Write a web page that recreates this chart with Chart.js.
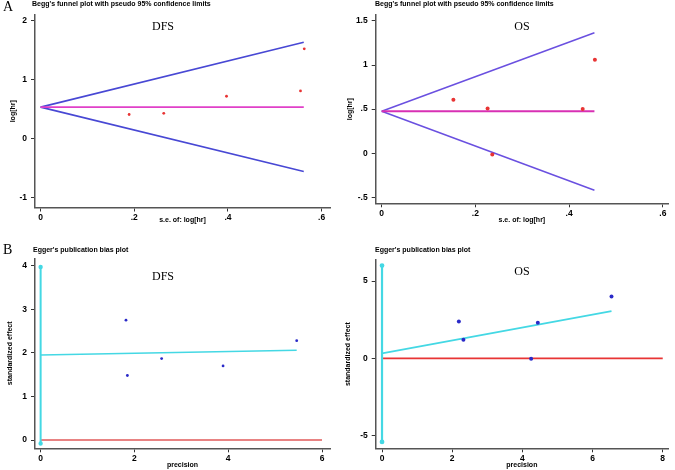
<!DOCTYPE html>
<html>
<head>
<meta charset="utf-8">
<script src="https://cdn.jsdelivr.net/npm/chart.js@4.4.1/dist/chart.umd.min.js"></script>
<style>
  body { margin: 0; background: #fff; }
  #wrap { position: relative; width: 675px; height: 470px; overflow: hidden; }
  #wrap canvas { position: absolute; }
</style>
</head>
<body>
<div id="wrap">
  <canvas id="beggDfs" width="337" height="235" style="left:0;top:0"></canvas>
  <canvas id="beggOs" width="338" height="235" style="left:337px;top:0"></canvas>
  <canvas id="eggerDfs" width="337" height="235" style="left:0;top:235px"></canvas>
  <canvas id="eggerOs" width="338" height="235" style="left:337px;top:235px"></canvas>
</div>
<script>
// --- A: Begg's funnel plots ---
const beggDfsSe = [0.189, 0.263, 0.397, 0.555, 0.563];
const beggDfsLogHr = [0.41, 0.43, 0.72, 0.81, 1.525];
const beggDfsLimitSe = [0, 0.562];
const beggDfsUpper = [0.535, 1.637];
const beggDfsLower = [0.535, -0.56];
const beggDfsPooled = [0.535, 0.535];

const beggOsSe = [0.153, 0.226, 0.236, 0.429, 0.455];
const beggOsLogHr = [0.608, 0.506, -0.015, 0.502, 1.061];
const beggOsLimitSe = [0, 0.454];
const beggOsUpper = [0.476, 1.366];
const beggOsLower = [0.476, -0.42];
const beggOsPooled = [0.476, 0.476];

// --- B: Egger's publication bias plots ---
const eggerDfsPrecision = [1.82, 1.85, 2.58, 3.89, 5.46];
const eggerDfsEffect = [2.75, 1.48, 1.87, 1.70, 2.28];
const eggerDfsFitX = [0, 5.46];
const eggerDfsFitY = [1.95, 2.06];
const eggerDfsCi = [-0.08, 3.97];
const eggerDfsZeroX = [0, 6];

const eggerOsPrecision = [2.19, 2.32, 4.25, 4.44, 6.54];
const eggerOsEffect = [2.39, 1.20, -0.03, 2.30, 4.00];
const eggerOsFitX = [0, 6.54];
const eggerOsFitY = [0.33, 3.06];
const eggerOsCi = [-5.4, 6.0];
const eggerOsZeroX = [0, 8];

// tick labels
const beggXTicks = [0, 0.2, 0.4, 0.6];
const beggDfsYTicks = [-1, 0, 1, 2];
const beggOsYTicks = [-0.5, 0, 0.5, 1, 1.5];
const eggerDfsXTicks = [0, 2, 4, 6];
const eggerDfsYTicks = [0, 1, 2, 3, 4];
const eggerOsXTicks = [0, 2, 4, 6, 8];
const eggerOsYTicks = [-5, 0, 5];

const SANS = '"Liberation Sans", Arial, sans-serif';
const SERIF = '"Liberation Serif", "Times New Roman", serif';

const pts = (xs, ys) => xs.map((x, i) => ({ x: x, y: ys[i] }));
// stata style numbers: .2 instead of 0.2
const stataNum = v => String(v).replace(/^(-?)0\./, '$1.');

// draws panel letter, title and the DFS / OS label
const panelText = {
  id: 'panelText',
  afterDraw(chart, args, o) {
    const ctx = chart.ctx;
    ctx.save();
    ctx.fillStyle = '#000';
    ctx.textBaseline = 'middle';
    ctx.textAlign = 'left';
    if (o.letter) {
      ctx.font = '14px ' + SERIF;
      ctx.fillText(o.letter, 3, o.letterY);
    }
    ctx.font = 'bold 7px ' + SANS;
    ctx.fillText(o.title, o.titleX, o.titleY);
    ctx.font = '12px ' + SERIF;
    ctx.textAlign = 'center';
    ctx.fillText(o.label, o.labelX, o.labelY);
    ctx.restore();
  }
};

function axis(c) {
  return {
    type: 'linear',
    min: c.min,
    max: c.max,
    afterBuildTicks: s => { s.ticks = c.ticks.map(v => ({ value: v })); },
    afterFit: s => { if (c.width) s.width = c.width; if (c.height) s.height = c.height; },
    grid: { display: true, drawOnChartArea: false, drawTicks: true, tickLength: 4, color: '#333', lineWidth: 1 },
    border: { display: true, color: '#555', width: 1.5 },
    ticks: {
      autoSkip: false, maxRotation: 0, minRotation: 0,
      padding: c.tickPad, color: '#000',
      font: { family: SANS, size: 8.5, weight: 'bold' },
      callback: v => stataNum(v)
    },
    title: {
      display: true, text: c.title, color: '#000',
      font: { family: SANS, size: 7, weight: 'bold' },
      padding: c.titlePad
    }
  };
}

function lineSet(data, color, width, radius) {
  return {
    data: data, showLine: true, borderColor: color, backgroundColor: color,
    borderWidth: width, pointRadius: radius || 0, pointHoverRadius: 0, fill: false
  };
}

function dotSet(data, color, radius) {
  return {
    data: data, showLine: false, backgroundColor: color, borderColor: color,
    borderWidth: 0, pointRadius: radius, pointHoverRadius: radius
  };
}

function makePanel(id, p) {
  new Chart(document.getElementById(id), {
    type: 'scatter',
    data: { datasets: p.datasets },
    options: {
      responsive: false,
      animation: false,
      events: [],
      layout: { padding: p.padding },
      plugins: { legend: { display: false }, tooltip: { enabled: false }, panelText: p.text },
      scales: { x: axis(p.x), y: axis(p.y) }
    },
    plugins: [panelText]
  });
}

// Begg DFS
makePanel('beggDfs', {
  padding: { left: 5, right: 7, top: 15, bottom: 2.5 },
  x: { min: -0.012, max: 0.618, ticks: beggXTicks, height: 25, tickPad: 1, title: 's.e. of: log[hr]', titlePad: { top: 0, bottom: 8 } },
  y: { min: -1.17, max: 2.1, ticks: beggDfsYTicks, width: 30, tickPad: 4, title: 'log[hr]', titlePad: { top: 4, bottom: 0 } },
  text: { letter: 'A', letterY: 7, title: "Begg's funnel plot with pseudo 95% confidence limits", titleX: 32, titleY: 4.5, label: 'DFS', labelX: 163, labelY: 27 },
  datasets: [
    dotSet(pts(beggDfsSe, beggDfsLogHr), '#e83434', 1.4),
    lineSet(pts(beggDfsLimitSe, beggDfsPooled), '#e040c8', 1.6),
    lineSet(pts(beggDfsLimitSe, beggDfsUpper), '#4848d4', 1.6),
    lineSet(pts(beggDfsLimitSe, beggDfsLower), '#4848d4', 1.6)
  ]
});

// Begg OS
makePanel('beggOs', {
  padding: { left: 8.7, right: 7, top: 15, bottom: 6.7 },
  x: { min: -0.0128, max: 0.611, ticks: beggXTicks, height: 25, tickPad: 1, title: 's.e. of: log[hr]', titlePad: { top: 0, bottom: 4 } },
  y: { min: -0.568, max: 1.568, ticks: beggOsYTicks, width: 30, tickPad: 4, title: 'log[hr]', titlePad: { top: 0, bottom: 0 } },
  text: { title: "Begg's funnel plot with pseudo 95% confidence limits", titleX: 38, titleY: 4.5, label: 'OS', labelX: 185, labelY: 27 },
  datasets: [
    dotSet(pts(beggOsSe, beggOsLogHr), '#e83434', 2),
    lineSet(pts(beggOsLimitSe, beggOsPooled), '#d830b4', 2.2),
    lineSet(pts(beggOsLimitSe, beggOsUpper), '#6a50e0', 1.5),
    lineSet(pts(beggOsLimitSe, beggOsLower), '#6a50e0', 1.5)
  ]
});

// Egger DFS
makePanel('eggerDfs', {
  padding: { left: 5, right: 7, top: 23.3, bottom: 0.7 },
  x: { min: -0.12, max: 6.17, ticks: eggerDfsXTicks, height: 21, tickPad: 1, title: 'precision', titlePad: { top: 0, bottom: 0 } },
  y: { min: -0.19, max: 4.17, ticks: eggerDfsYTicks, width: 30, tickPad: 4, title: 'standardized effect', titlePad: { top: 1, bottom: 0 } },
  text: { letter: 'B', letterY: 15, title: "Egger's publication bias plot", titleX: 33, titleY: 15, label: 'DFS', labelX: 163, labelY: 42 },
  datasets: [
    dotSet(pts(eggerDfsPrecision, eggerDfsEffect), '#2a2ac8', 1.4),
    lineSet(pts(eggerDfsFitX, eggerDfsFitY), '#44d8e4', 1.6),
    lineSet(pts([0, 0], eggerDfsCi), '#44d8e4', 2, 1.2),
    lineSet(pts(eggerDfsZeroX, [0, 0]), '#e05a5a', 1.6)
  ]
});

// Egger OS
makePanel('eggerOs', {
  padding: { left: 6.7, right: 7, top: 25, bottom: 0.7 },
  x: { min: -0.18, max: 8.15, ticks: eggerOsXTicks, height: 21, tickPad: 1, title: 'precision', titlePad: { top: 0, bottom: 0 } },
  y: { min: -5.81, max: 6.36, ticks: eggerOsYTicks, width: 32, tickPad: 4, title: 'standardized effect', titlePad: { top: 0.4, bottom: 0 } },
  text: { title: "Egger's publication bias plot", titleX: 38, titleY: 15, label: 'OS', labelX: 185, labelY: 37 },
  datasets: [
    dotSet(pts(eggerOsPrecision, eggerOsEffect), '#2a2ac8', 2),
    lineSet(pts(eggerOsFitX, eggerOsFitY), '#44d8e4', 1.8),
    lineSet(pts([0, 0], eggerOsCi), '#44d8e4', 2.2, 1.3),
    lineSet(pts(eggerOsZeroX, [0, 0]), '#e83434', 1.8)
  ]
});
</script>
</body>
</html>
